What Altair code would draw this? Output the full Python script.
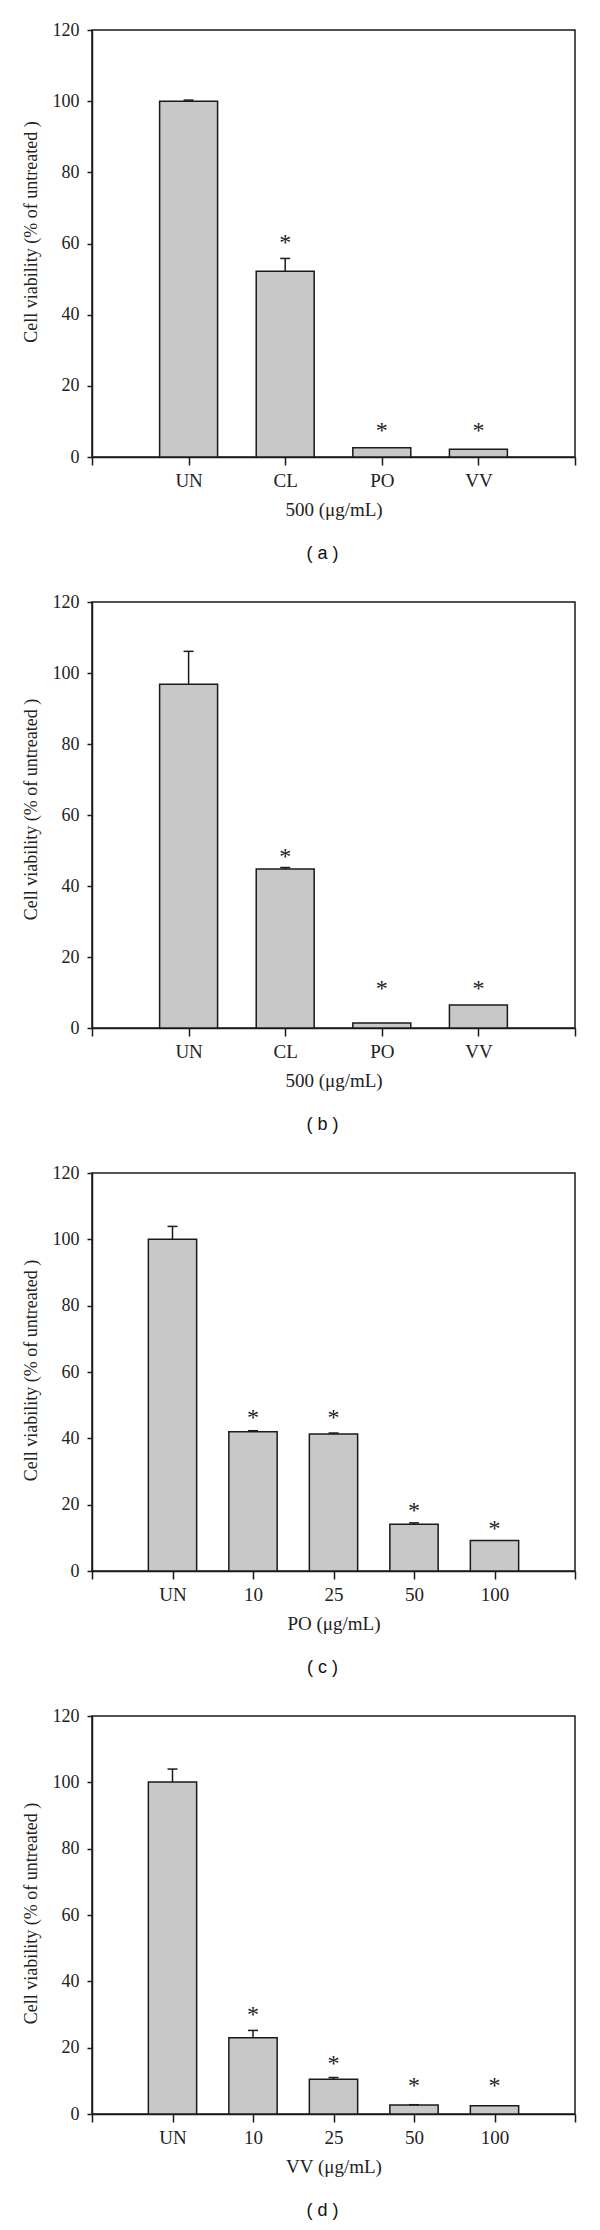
import json
import altair as alt
import pandas as pd

Y_TITLE = "Cell viability (% of untreated )"
Y_TICKS = [0, 20, 40, 60, 80, 100, 120]

# Panel (a)
a_labels = ["UN", "CL", "PO", "VV"]
a_values = [100.0, 52.2, 2.6, 2.2]
a_errors = [0.3, 3.6, 0.0, 0.0]
a_stars = [None, 60.0, 6.9, 6.9]

# Panel (b)
b_labels = ["UN", "CL", "PO", "VV"]
b_values = [96.8, 44.8, 1.4, 6.5]
b_errors = [9.3, 0.4, 0.0, 0.0]
b_stars = [None, 47.9, 10.7, 10.7]

# Panel (c)
c_labels = ["UN", "10", "25", "50", "100"]
c_values = [100.0, 42.0, 41.3, 14.1, 9.2]
c_errors = [3.9, 0.3, 0.3, 0.4, 0.0]
c_stars = [None, 45.7, 45.7, 17.9, 12.5]

# Panel (d)
d_labels = ["UN", "10", "25", "50", "100"]
d_values = [100.1, 23.0, 10.5, 2.7, 2.5]
d_errors = [3.9, 2.2, 0.5, 0.1, 0.0]
d_stars = [None, 29.5, 14.8, 8.1, 8.1]

x_titles = ["500 (\u03bcg/mL)", "500 (\u03bcg/mL)", "PO (\u03bcg/mL)", "VV (\u03bcg/mL)"]
captions = ["( a )", "( b )", "( c )", "( d )"]
heights = [427, 426, 398, 398]
y_title_shift = [-12, -6, -2, -2]

INK = "#1a1a1a"
SERIF = "Liberation Serif"


def panel(labels, values, errors, stars, xtitle, caption, height, yshift):
    n = len(labels)
    df = pd.DataFrame({
        "pos": list(range(1, n + 1)),
        "value": values,
        "err": errors,
        "star": stars,
    })
    df["lo"] = df["pos"] - 0.3
    df["hi"] = df["pos"] + 0.3
    df["top"] = df["value"] + df["err"]
    df["zero"] = 0.0

    tick_labels = [""] + list(labels) + [""]
    xscale = alt.Scale(domain=[0, n + 1], nice=False, zero=False)
    yscale = alt.Scale(domain=[0, 120], nice=False)
    xaxis = alt.Axis(values=list(range(0, n + 2)),
                     labelExpr=json.dumps(tick_labels) + "[datum.value]",
                     title=xtitle)
    yaxis = alt.Axis(values=Y_TICKS, title=Y_TITLE, titleY=height / 2 + yshift)

    bars = alt.Chart(df).mark_bar(fill="#c8c8c8", stroke=INK, strokeWidth=1.5).encode(
        x=alt.X("lo:Q", scale=xscale, axis=xaxis),
        x2="hi:Q",
        y=alt.Y("value:Q", scale=yscale, axis=yaxis),
        y2="zero:Q",
    )
    err_df = df[df["err"] > 0]
    stem = alt.Chart(err_df).mark_rule(color=INK, strokeWidth=1.5).encode(
        x=alt.X("pos:Q", scale=xscale, axis=xaxis),
        y=alt.Y("value:Q", scale=yscale, axis=yaxis),
        y2="top:Q",
    )
    cap = alt.Chart(err_df).mark_rule(color=INK, strokeWidth=1.5, xOffset=-5, x2Offset=5).encode(
        x=alt.X("pos:Q", scale=xscale, axis=xaxis),
        x2="pos:Q",
        y=alt.Y("top:Q", scale=yscale, axis=yaxis),
    )
    star_df = df[df["star"].notna()]
    star = alt.Chart(star_df).mark_text(text="*", font=SERIF, fontSize=24, color="#222",
                                        baseline="middle", dy=-1).encode(
        x=alt.X("pos:Q", scale=xscale, axis=xaxis),
        y=alt.Y("star:Q", scale=yscale, axis=yaxis),
    )
    return alt.layer(bars, stem, cap, star).properties(
        width=483,
        height=height,
        title=alt.TitleParams(caption, orient="bottom", font="Liberation Sans", fontSize=18,
                              fontWeight="normal", color="#111", offset=26, dx=-11),
    )


panels = [
    panel(a_labels, a_values, a_errors, a_stars, x_titles[0], captions[0], heights[0], y_title_shift[0]),
    panel(b_labels, b_values, b_errors, b_stars, x_titles[1], captions[1], heights[1], y_title_shift[1]),
    panel(c_labels, c_values, c_errors, c_stars, x_titles[2], captions[2], heights[2], y_title_shift[2]),
    panel(d_labels, d_values, d_errors, d_stars, x_titles[3], captions[3], heights[3], y_title_shift[3]),
]

chart = alt.vconcat(*panels, spacing=28).properties(
    padding={"left": 13, "top": 12, "right": 5, "bottom": 5}
).configure_view(
    stroke=INK, strokeWidth=1.5
).configure_axis(
    grid=False,
    domainColor=INK, domainWidth=1.5,
    tickColor=INK, tickWidth=1.5,
    labelFont=SERIF, labelColor="#222",
    titleFont=SERIF, titleFontWeight="normal", titleColor="#222",
).configure_axisX(
    tickSize=8, labelPadding=6, titlePadding=10, labelFontSize=19, titleFontSize=19,
).configure_axisY(
    tickSize=5, labelPadding=8, titlePadding=12, labelFontSize=18, titleFontSize=18,
)

chart.save("out.html", embed_options={"renderer": "svg", "actions": False})
